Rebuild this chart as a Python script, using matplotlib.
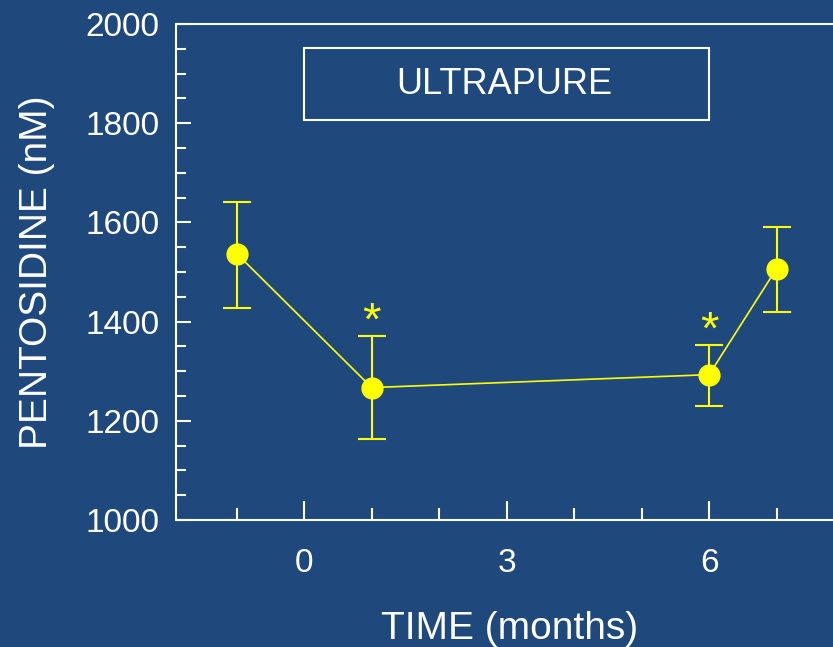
import matplotlib.pyplot as plt
from matplotlib.patches import Rectangle
from matplotlib.ticker import MultipleLocator

BG = "#1f487c"
YELLOW = "#ffff00"

# data
months = [-1, 1, 6, 7]
pentosidine = [1537, 1267, 1293, 1507]
err_upper = [1642, 1370, 1352, 1590]
err_lower = [1428, 1164, 1230, 1420]
star_x = [1, 6]
star_y = [1374, 1356]
x_ticks = [0, 3, 6]

plt.rcParams["font.family"] = ["Liberation Sans", "DejaVu Sans"]

fig = plt.figure(figsize=(8.33, 6.47), dpi=100, facecolor=BG)
ax = fig.add_axes([0.2113, 0.1963, 0.802, 0.7666], facecolor=BG)

yerr = [[p - lo for p, lo in zip(pentosidine, err_lower)],
        [hi - p for p, hi in zip(pentosidine, err_upper)]]
ax.errorbar(months, pentosidine, yerr=yerr, color=YELLOW, lw=1.2,
            marker="o", markersize=15, capsize=10, elinewidth=1.5,
            capthick=1.5, zorder=3)

# significance stars
for x, y in zip(star_x, star_y):
    ax.text(x, y, "*", color=YELLOW, fontsize=34,
            ha="center", va="baseline")

# label box
ax.add_patch(Rectangle((0, 1806), 6, 145, fill=False, ec="white", lw=1.5))
ax.text(2.97, 1879, "ULTRAPURE", color="white", fontsize=26,
        ha="center", va="center")

ax.set_xlim(-1.9, 8.0)
ax.set_ylim(1000, 2000)
ax.set_xticks(x_ticks)
ax.xaxis.set_minor_locator(MultipleLocator(1))
ax.yaxis.set_major_locator(MultipleLocator(200))
ax.yaxis.set_minor_locator(MultipleLocator(50))

for s in ax.spines.values():
    s.set_color("white")
    s.set_linewidth(1.5)

ax.tick_params(axis="both", which="both", direction="in", colors="white",
               width=1.5, labelsize=24, top=False, right=False)
ax.tick_params(axis="y", which="major", length=11, pad=12)
ax.tick_params(axis="y", which="minor", length=7)
ax.tick_params(axis="x", which="major", length=14, pad=20)
ax.tick_params(axis="x", which="minor", length=9)

ax.set_xlabel("TIME (months)", color="white", fontsize=28, labelpad=23)
ax.set_ylabel("PENTOSIDINE (nM)", color="white", fontsize=28, labelpad=22)

fig.savefig("out.png", dpi=100, facecolor=BG)
